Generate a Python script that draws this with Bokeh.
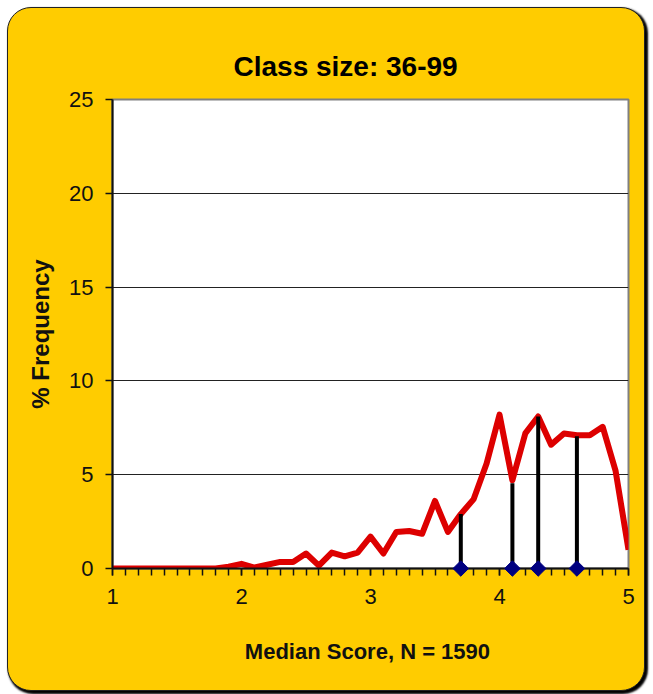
from bokeh.plotting import figure
from bokeh.embed import file_html
from bokeh.resources import INLINE
from bokeh.models import FixedTicker, Range1d

# ---- data ----
scores = [1.0, 1.1, 1.2, 1.3, 1.4, 1.5, 1.6, 1.7, 1.8, 1.9,
          2.0, 2.1, 2.2, 2.3, 2.4, 2.5, 2.6, 2.7, 2.8, 2.9,
          3.0, 3.1, 3.2, 3.3, 3.4, 3.5, 3.6, 3.7, 3.8, 3.9,
          4.0, 4.1, 4.2, 4.3, 4.4, 4.5, 4.6, 4.7, 4.8, 4.9, 5.0]
freq = [0, 0, 0, 0, 0, 0, 0, 0, 0, 0.1,
        0.25, 0.05, 0.2, 0.35, 0.35, 0.8, 0.15, 0.85, 0.65, 0.85,
        1.7, 0.8, 1.95, 2.0, 1.85, 3.6, 1.95, 2.9, 3.7, 5.6,
        8.2, 4.7, 7.2, 8.1, 6.6, 7.2, 7.1, 7.1, 7.55, 5.2, 1.0]
marker_x = [3.7, 4.1, 4.3, 4.6]
marker_h = [2.9, 4.55, 8.1, 7.05]
x_ticks = [1, 2, 3, 4, 5]
y_ticks = [0, 5, 10, 15, 20, 25]

title_text = "Class size: 36-99"
x_label = "Median  Score, N = 1590"
y_label = "% Frequency"

FONT = "Liberation Sans"

p = figure(width=638, height=684, output_backend="svg", toolbar_location=None,
           x_range=Range1d(1, 5), y_range=Range1d(0, 25),
           min_border_left=104, min_border_right=18,
           min_border_top=91, min_border_bottom=124)
p.styles = {"background-color": "#FFCC00", "border-radius": "24px",
            "box-shadow": "2px 2px 2px 1px #000", "outline": "none",
            "border": "1px solid #222", "margin-left": "7px", "margin-top": "7px"}
p.border_fill_color = None
p.background_fill_color = "white"
p.outline_line_color = "#808080"
p.outline_line_width = 2

p.title.text = title_text
p.title.text_font = FONT
p.title.text_font_size = "28px"
p.title.text_font_style = "bold"
p.title.text_color = "black"
p.title.align = "left"
p.title.offset = 121
p.title.standoff = 36

# grid
p.xgrid.visible = False
p.ygrid.ticker = FixedTicker(ticks=y_ticks)
p.ygrid.grid_line_color = "#222222"
p.ygrid.grid_line_width = 1

# axes
p.xaxis.ticker = FixedTicker(ticks=x_ticks, minor_ticks=list(scores))
p.yaxis.ticker = FixedTicker(ticks=y_ticks)
for ax in (p.xaxis, p.yaxis):
    ax.axis_line_color = "#111111"
    ax.axis_line_width = 2
    ax.major_tick_line_color = "#111111"
    ax.major_tick_line_width = 1.5
    ax.major_tick_in = 0
    ax.major_tick_out = 7
    ax.major_label_text_font = FONT
    ax.major_label_text_font_size = "22px"
    ax.major_label_text_color = "#111111"
    ax.axis_label_text_font = FONT
    ax.axis_label_text_font_style = "bold"
    ax.axis_label_text_color = "#111111"
p.xaxis.minor_tick_line_color = "#111111"
p.xaxis.minor_tick_line_width = 1.5
p.xaxis.minor_tick_in = 0
p.xaxis.minor_tick_out = 7
p.yaxis.minor_tick_line_color = None
p.xaxis.major_label_standoff = 13
p.yaxis.major_label_standoff = 12

p.xaxis.axis_label = x_label
p.xaxis.axis_label_text_font_size = "22px"
p.xaxis.axis_label_standoff = 32
p.yaxis.axis_label = y_label
p.yaxis.axis_label_text_font_size = "24px"
p.yaxis.axis_label_standoff = 12

# data line
p.line(scores, freq, line_color="#DD0000", line_width=6, line_join="round")

# stems and diamonds (overlay level so the diamonds are not clipped at the axis)
p.segment(x0=marker_x, y0=[0] * len(marker_x), x1=marker_x, y1=marker_h,
          line_color="black", line_width=4)
p.scatter(marker_x, [0] * len(marker_x), marker="square", angle=0.785398,
          size=11, fill_color="#000080", line_color="#000080", level="overlay")

open("out.html", "w").write(file_html(p, INLINE))
